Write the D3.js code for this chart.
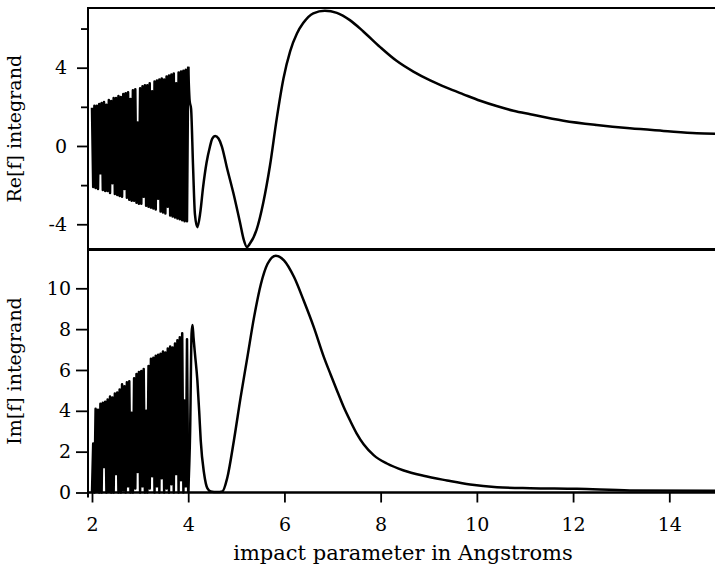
<!DOCTYPE html>
<html><head><meta charset="utf-8">
<script src="https://cdn.jsdelivr.net/npm/d3@7"></script>
<style>body{margin:0;background:#fff} svg{display:block}</style>
</head><body>
<svg id="chart" width="715" height="569"></svg>
<script>
// ---------- data ----------
const xTicks = [2, 4, 6, 8, 10, 12, 14];
const reTicksMajor = [-4, 0, 4];
const reTicksMinor = [-2, 2, 6];
const imTicks = [0, 2, 4, 6, 8, 10];

// densely oscillating part (impact parameter grid from oscStart, step oscStep)
const oscStart = 2.0, oscStep = 0.025;
const reOsc = [1.95,-2.10,2.05,-2.15,2.05,-2.20,2.15,-1.40,2.20,-2.25,
  2.25,-2.30,2.10,-2.30,2.35,-2.40,2.30,-1.90,2.45,-2.45,
  2.45,-2.50,2.55,-2.55,2.50,-2.60,2.65,-2.20,2.70,-2.65,
  2.75,-2.75,2.40,-2.80,2.85,-2.80,2.90,-2.90,1.20,-2.95,
  2.95,-2.95,3.05,-2.60,3.10,-3.05,3.10,-3.10,3.20,-3.15,
  2.80,-3.20,3.30,-3.25,3.35,-2.70,3.40,-3.35,3.45,-3.40,
  3.40,-3.45,3.55,-3.10,3.60,-3.55,3.65,-3.60,3.70,-3.65,
  3.20,-3.70,3.75,-3.75,3.80,-3.80,3.85,-3.85,3.90,-3.85];
const imOsc = [0.00,2.40,0.00,4.10,0.05,4.05,0.00,4.35,0.00,4.40,
  1.25,4.45,0.00,4.55,0.05,4.70,0.00,4.65,0.00,4.85,
  0.90,4.90,0.00,5.05,0.00,5.30,0.10,5.20,0.00,5.40,
  0.30,5.45,0.00,3.90,0.00,5.60,0.20,5.80,1.00,5.90,
  0.00,5.95,0.30,6.05,0.00,4.00,0.00,6.20,0.20,6.55,
  0.80,6.60,0.00,6.70,0.30,6.75,0.00,6.80,0.70,6.90,
  0.00,6.85,0.20,7.05,0.00,7.15,0.40,7.10,0.00,7.30,
  0.90,7.45,0.00,7.60,0.60,7.80,0.00,4.50,0.30,7.50];

// smooth part
const reImpact = [4.00,4.03,4.06,4.10,4.14,4.19,4.25,4.31,4.38,4.45,
  4.50,4.56,4.63,4.70,4.80,4.94,5.08,5.15,5.22,5.28,
  5.42,5.56,5.70,5.84,5.98,6.12,6.26,6.39,6.60,6.84,
  7.09,7.36,7.64,7.99,8.33,8.68,9.03,9.37,9.72,10.07,
  10.41,10.76,11.11,11.80,12.49,13.18,13.88,14.57,14.95];
const reValues = [4.05,2.30,1.90,-1.00,-3.50,-4.15,-3.42,-2.09,-0.87,-0.05,
  0.38,0.51,0.38,-0.03,-1.06,-2.42,-3.95,-4.75,-5.16,-5.00,
  -4.29,-2.90,-1.00,1.40,3.45,4.85,5.75,6.28,6.78,6.91,
  6.80,6.43,5.85,5.05,4.35,3.80,3.35,2.98,2.64,2.31,
  2.04,1.80,1.62,1.29,1.07,0.90,0.77,0.65,0.63];
const imImpact = [4.00,4.04,4.07,4.09,4.11,4.14,4.19,4.23,4.26,4.33,
  4.40,4.47,4.60,4.71,4.81,4.95,5.09,5.23,5.37,5.51,
  5.65,5.82,5.99,6.20,6.40,6.61,6.82,6.96,7.10,7.23,
  7.37,7.50,7.65,7.86,8.13,8.48,8.89,9.38,9.86,10.42,
  11.11,12.08,13.18,14.95];
const imValues = [0.00,3.00,7.80,8.20,7.60,6.80,5.50,3.90,2.55,0.93,
  0.20,0.05,0.02,0.05,0.70,2.55,4.67,6.63,8.60,10.20,
  11.20,11.60,11.37,10.55,9.40,8.10,6.63,5.78,4.95,4.20,
  3.50,2.90,2.35,1.82,1.42,1.08,0.82,0.59,0.39,0.26,
  0.21,0.18,0.10,0.08];

// ---------- drawing ----------
const svg = d3.select("#chart");
const FONT = "DejaVu Serif";
const x = d3.scaleLinear().domain([1.917, 14.95]).range([88, 715]);
const yRe = d3.scaleLinear().domain([-5.29, 7.05]).range([249.5, 8]);
const yIm = d3.scaleLinear().domain([0, 11.9]).range([492.5, 249.5]);

const oscPts = arr => arr.map((v, i) => [oscStart + i * oscStep, v]);
const reSmooth = reImpact.map((d, i) => [d, reValues[i]]);
const imSmooth = imImpact.map((d, i) => [d, imValues[i]]);

function drawSeries(y, osc, smooth) {
  const lin = d3.line().x(d => x(d[0])).y(d => y(d[1]));
  const mono = d3.line().x(d => x(d[0])).y(d => y(d[1])).curve(d3.curveMonotoneX);
  svg.append("path").attr("d", lin(oscPts(osc).concat([smooth[0]]))).attr("fill", "none")
    .attr("stroke", "#000").attr("stroke-width", 2.5).attr("stroke-linejoin", "round");
  svg.append("path").attr("d", mono(smooth)).attr("fill", "none")
    .attr("stroke", "#000").attr("stroke-width", 2.5).attr("stroke-linejoin", "round");
}
drawSeries(yRe, reOsc, reSmooth);
drawSeries(yIm, imOsc, imSmooth);

// frame lines
const [x0, x1] = x.range();
const frame = svg.append("g").attr("stroke", "#000");
frame.append("line").attr("x1", x0).attr("x2", x1).attr("y1", yRe.range()[1]).attr("y2", yRe.range()[1]).attr("stroke-width", 2);
frame.append("line").attr("x1", x0).attr("x2", x1).attr("y1", yRe.range()[0]).attr("y2", yRe.range()[0]).attr("stroke-width", 3);
frame.append("line").attr("x1", x0).attr("x2", x1).attr("y1", yIm.range()[0]).attr("y2", yIm.range()[0]).attr("stroke-width", 2.5);
frame.append("line").attr("x1", x0).attr("x2", x0).attr("y1", yRe.range()[1] - 1).attr("y2", yIm.range()[0] + 5).attr("stroke-width", 2);

function styleAxis(g) {
  g.select(".domain").remove();
  g.selectAll(".tick line").attr("stroke", "#000").attr("stroke-width", 1.8);
  g.selectAll(".tick text").attr("font-family", FONT).attr("font-size", 19).attr("fill", "#000");
}

// top panel y axis
svg.append("g").attr("transform", `translate(${x0},0)`)
  .call(d3.axisLeft(yRe).tickValues(reTicksMajor).tickSize(11).tickPadding(10).tickFormat(d => String(d)))
  .call(styleAxis);
svg.append("g").attr("transform", `translate(${x0},0)`)
  .call(d3.axisLeft(yRe).tickValues(reTicksMinor).tickSize(7).tickFormat(""))
  .call(styleAxis);

// bottom panel y axis
svg.append("g").attr("transform", `translate(${x0},0)`)
  .call(d3.axisLeft(yIm).tickValues(imTicks).tickSize(12).tickPadding(5).tickFormat(d => String(d)))
  .call(styleAxis);

// x axis
const gx = svg.append("g").attr("transform", `translate(0,${yIm.range()[0]})`)
  .call(d3.axisBottom(x).tickValues(xTicks).tickSize(10).tickFormat(d => String(d)))
  .call(styleAxis);
gx.selectAll(".tick text").attr("y", 38).attr("dy", 0);

// titles
svg.append("text").attr("x", 403).attr("y", 560).attr("text-anchor", "middle")
  .attr("font-family", FONT).attr("font-size", 21).attr("fill", "#000")
  .text("impact parameter in Angstroms");
svg.append("text").attr("transform", `translate(21,${(yRe.range()[0] + yRe.range()[1]) / 2}) rotate(-90)`)
  .attr("text-anchor", "middle").attr("font-family", FONT).attr("font-size", 19).attr("fill", "#000")
  .text("Re[f] integrand");
svg.append("text").attr("transform", `translate(21,${(yIm.range()[0] + yIm.range()[1]) / 2}) rotate(-90)`)
  .attr("text-anchor", "middle").attr("font-family", FONT).attr("font-size", 19).attr("fill", "#000")
  .text("Im[f] integrand");
</script>
</body></html>
